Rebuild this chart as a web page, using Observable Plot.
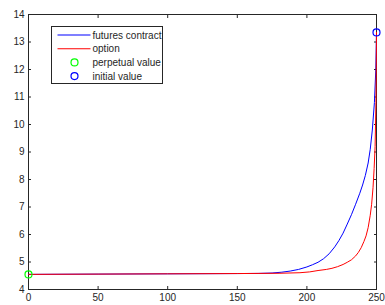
<!DOCTYPE html>
<html>
<head>
<meta charset="utf-8">
<script src="https://cdn.jsdelivr.net/npm/d3@7"></script>
<script src="https://cdn.jsdelivr.net/npm/@observablehq/plot@0.6"></script>
<style>
  html, body { margin: 0; padding: 0; background: #fff; }
  #wrap { position: relative; width: 385px; height: 305px; }
</style>
</head>
<body>
<div id="wrap"></div>
<script>
// futures contract curve
const futuresX = [0, 50, 100, 150, 165, 175, 182, 188, 194, 200, 204, 208, 212, 216, 220, 223, 226, 229, 232, 235, 238, 240, 242, 244, 245.5, 247, 248.5, 249.5, 250];
const futuresY = [4.55, 4.56, 4.57, 4.58, 4.585, 4.60, 4.63, 4.67, 4.73, 4.82, 4.90, 4.99, 5.12, 5.30, 5.55, 5.78, 6.05, 6.38, 6.72, 7.1, 7.5, 7.8, 8.15, 8.6, 9.1, 9.8, 10.8, 12.0, 13.35];
// option curve
const optionX = [0, 100, 150, 180, 195, 202, 208, 214, 218, 222, 226, 229, 232, 235, 237, 239, 241, 242.5, 244, 245.5, 246.5, 247.5, 248.3, 249, 249.6, 250];
const optionY = [4.55, 4.57, 4.58, 4.59, 4.61, 4.64, 4.69, 4.73, 4.77, 4.83, 4.91, 4.99, 5.08, 5.22, 5.35, 5.52, 5.75, 5.95, 6.25, 6.7, 7.1, 7.7, 8.4, 9.2, 10.8, 13.35];
// markers
const perpetual = [{x: 0, y: 4.55}];
const initial = [{x: 250, y: 13.35}];
const xTicks = [0, 50, 100, 150, 200, 250];
const yTicks = [4, 5, 6, 7, 8, 9, 10, 11, 12, 13, 14];
const legendLabels = ["futures contract", "option", "perpetual value", "initial value"];
const legendColors = ["#0000ff", "#ff0000", "#00ff00", "#0000ff"];

const futures = futuresX.map((x, i) => ({x, y: futuresY[i]}));
const option = optionX.map((x, i) => ({x, y: optionY[i]}));

const ink = "#262626";
const chart = Plot.plot({
  width: 385,
  height: 305,
  marginLeft: 28,
  marginRight: 9,
  marginTop: 14,
  marginBottom: 16,
  style: {fontFamily: "'Liberation Sans', Arial, sans-serif", fontSize: "10px", color: ink, background: "#fff"},
  x: {domain: [0, 250]},
  y: {domain: [4, 14]},
  marks: [
    Plot.axisX({ticks: xTicks, tickSize: -3, tickPadding: 7.5, label: null, stroke: ink, fill: ink}),
    Plot.axisX({anchor: "top", ticks: xTicks, tickSize: -3, tickFormat: () => "", label: null, stroke: ink}),
    Plot.axisY({ticks: yTicks, tickSize: -3, tickPadding: 7, label: null, stroke: ink, fill: ink}),
    Plot.axisY({anchor: "right", ticks: yTicks, tickSize: -3, tickFormat: () => "", label: null, stroke: ink}),
    Plot.frame({stroke: ink, strokeWidth: 1}),
    Plot.line(futures, {x: "x", y: "y", stroke: "#0000ff", strokeWidth: 1, curve: "linear"}),
    Plot.line(option, {x: "x", y: "y", stroke: "#ff0000", strokeWidth: 1, curve: "linear"}),
    Plot.dot(perpetual, {x: "x", y: "y", r: 3.5, stroke: "#00ff00", strokeWidth: 1.2, fill: "none"}),
    Plot.dot(initial, {x: "x", y: "y", r: 3.5, stroke: "#0000ff", strokeWidth: 1.2, fill: "none"})
  ]
});
const wrap = document.getElementById("wrap");
wrap.appendChild(chart);

// legend drawn into the chart SVG
const svg = d3.select(chart);
const lg = svg.append("g").attr("transform", "translate(51.5,26.5)").attr("text-anchor", "start");
lg.append("rect").attr("width", 111).attr("height", 57)
  .style("fill", "#fff").style("stroke", ink).style("stroke-width", 1);
legendLabels.forEach((lab, i) => {
  const cy = 8.5 + i * 13.7;
  if (i < 2) {
    lg.append("path").attr("d", `M6,${cy}H39`)
      .style("stroke", legendColors[i]).style("stroke-width", 1.1).style("fill", "none");
  } else {
    lg.append("circle").attr("cx", 23).attr("cy", cy).attr("r", 3.5)
      .style("fill", "none").style("stroke", legendColors[i]).style("stroke-width", 1.2);
  }
  lg.append("text").attr("x", 41).attr("y", cy).attr("dy", "0.35em")
    .attr("text-anchor", "start")
    .style("fill", ink).style("stroke", "none")
    .style("font", "10px 'Liberation Sans', Arial, sans-serif").text(lab);
});
</script>
</body>
</html>
